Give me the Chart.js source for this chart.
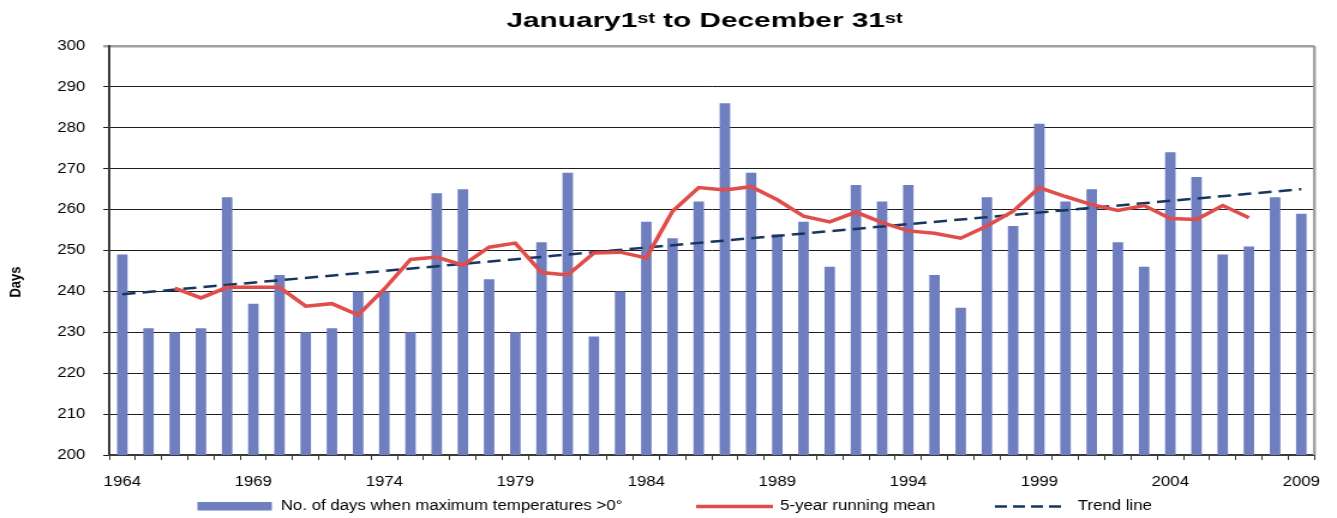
<!DOCTYPE html>
<html>
<head>
<meta charset="utf-8">
<script src="https://cdn.jsdelivr.net/npm/chart.js@4/dist/chart.umd.min.js"></script>
<style>
html,body{margin:0;padding:0;background:#fff;overflow:hidden}
#c{display:block;width:1337px;height:518px}
</style>
</head>
<body>
<canvas id="c" width="1114" height="518" style="width:1337px;height:518px"></canvas>
<script>
// ---- data ----
const years = ['1964','1965','1966','1967','1968','1969','1970','1971','1972','1973',
  '1974','1975','1976','1977','1978','1979','1980','1981','1982','1983',
  '1984','1985','1986','1987','1988','1989','1990','1991','1992','1993',
  '1994','1995','1996','1997','1998','1999','2000','2001','2002','2003',
  '2004','2005','2006','2007','2008','2009'];
const daysAboveZero = [249,231,230,231,263,237,244,230,231,240,
  240,230,264,265,243,230,252,269,229,240,
  257,253,262,286,269,254,257,246,266,262,
  266,244,236,263,256,281,262,265,252,246,
  274,268,249,251,263,259];
const runningMean = [null,null,240.8,238.4,241.0,241.0,241.0,236.4,237.0,234.2,
  240.6,247.8,248.4,246.4,250.8,251.8,244.6,244.0,249.4,249.6,
  248.2,259.6,265.4,264.8,265.6,262.4,258.4,257.0,259.4,256.8,
  254.8,254.2,253.0,256.0,259.6,265.4,263.2,261.2,259.8,261.0,
  257.8,257.6,261.0,258.0,null,null];
const trendLine = [239.3,null,null,null,null,null,null,null,null,null,
  null,null,null,null,null,null,null,null,null,null,
  null,null,null,null,null,null,null,null,null,null,
  null,null,null,null,null,null,null,null,null,null,
  null,null,null,null,null,265.0];
const xTickLabels = ['1964','1969','1974','1979','1984','1989','1994','1999','2004','2009'];
const seriesNames = ['No. of days when maximum temperatures >0\u00B0','5-year running mean','Trend line'];
const titleParts = [['January1',false],['st',true],[' to December 31',false],['st',true]];
const yAxisTitle = 'Days';

// ---- styles ----
const FONT = '"Liberation Sans", Arial, Helvetica, sans-serif';
const BLUE = '#6e7ebf';
const RED = '#e14d4b';
const NAVY = '#17355e';

const decor = {
  id: 'decor',
  afterDatasetsDraw(chart) {
    const {ctx, chartArea: a} = chart;
    ctx.save();
    ctx.strokeStyle = '#a0a0a0';
    ctx.lineWidth = 2.5;
    ctx.beginPath();
    ctx.moveTo(a.right, a.top);
    ctx.lineTo(a.right, a.bottom);
    ctx.stroke();
    ctx.restore();
  },
  afterDraw(chart) {
    const ctx = chart.ctx;
    // title
    ctx.save();
    const big = 'bold 21px ' + FONT, small = 'bold 14px ' + FONT;
    let total = 0;
    titleParts.forEach(p => { ctx.font = p[1] ? small : big; total += ctx.measureText(p[0]).width; });
    const sx = 330 / total;
    ctx.translate(587 - 165, 0);
    ctx.scale(sx, 1);
    ctx.fillStyle = '#000';
    ctx.textBaseline = 'alphabetic';
    ctx.textAlign = 'left';
    let x = 0;
    titleParts.forEach(p => {
      ctx.font = p[1] ? small : big;
      ctx.fillText(p[0], x, p[1] ? 22.5 : 26.7);
      x += ctx.measureText(p[0]).width;
    });
    ctx.restore();

    // y axis title
    ctx.save();
    ctx.translate(13.5, 282);
    ctx.rotate(-Math.PI / 2);
    ctx.font = 'bold 13px ' + FONT;
    ctx.fillStyle = '#000';
    ctx.textAlign = 'center';
    ctx.textBaseline = 'middle';
    ctx.fillText(yAxisTitle, 0, 0);
    ctx.restore();

    // legend
    const ds = chart.data.datasets;
    const ly = 506.5;
    ctx.save();
    ctx.font = '14px ' + FONT;
    ctx.fillStyle = '#000';
    ctx.textBaseline = 'middle';
    ctx.textAlign = 'left';
    // bar item
    ctx.fillStyle = ds[0].backgroundColor;
    ctx.fillRect(164.5, 502, 62, 8.5);
    ctx.fillStyle = '#000';
    ctx.fillText(ds[0].label, 234, ly);
    // running mean
    ctx.strokeStyle = ds[1].borderColor;
    ctx.lineWidth = 3.5;
    ctx.beginPath(); ctx.moveTo(580, ly); ctx.lineTo(644, ly); ctx.stroke();
    ctx.fillText(ds[1].label, 650, ly);
    // trend
    ctx.strokeStyle = ds[2].borderColor;
    ctx.lineWidth = 2.5;
    ctx.setLineDash([10, 5]);
    ctx.beginPath(); ctx.moveTo(829, ly); ctx.lineTo(885, ly); ctx.stroke();
    ctx.setLineDash([]);
    ctx.fillText(ds[2].label, 898, ly);
    ctx.restore();
  }
};

new Chart(document.getElementById('c'), {
  data: {
    labels: years,
    datasets: [
      { type: 'bar', label: seriesNames[0], data: daysAboveZero, backgroundColor: BLUE,
        barPercentage: 0.4, categoryPercentage: 1, order: 3 },
      { type: 'line', label: seriesNames[1], data: runningMean, borderColor: RED, backgroundColor: RED,
        borderWidth: 3.5, pointRadius: 0, tension: 0, spanGaps: false, order: 1 },
      { type: 'line', label: seriesNames[2], data: trendLine, borderColor: NAVY, backgroundColor: NAVY,
        borderWidth: 2.5, borderDash: [11, 6], pointRadius: 0, tension: 0, spanGaps: true, order: 2 }
    ]
  },
  options: {
    responsive: false,
    devicePixelRatio: 1,
    animation: false,
    layout: { padding: { top: 46, right: 16, left: 0, bottom: 0 } },
    plugins: { legend: { display: false }, title: { display: false }, tooltip: { enabled: false } },
    scales: {
      x: {
        type: 'category',
        offset: true,
        grid: { offset: true, drawOnChartArea: false, drawTicks: true, tickLength: 5, color: '#333', lineWidth: 1 },
        border: { display: true, color: '#3a3a3a', width: 2 },
        ticks: {
          autoSkip: false, maxRotation: 0, minRotation: 0, padding: 14, color: '#000',
          font: { family: FONT, size: 14 },
          callback(v) { const l = this.getLabelForValue(v); return xTickLabels.includes(l) ? l : ''; }
        },
        afterFit(s) { s.height = 63; }
      },
      y: {
        min: 200, max: 300,
        ticks: { stepSize: 10, padding: 15, color: '#000', font: { family: FONT, size: 14 } },
        grid: {
          color: c => (c.tick && c.tick.value === 300) ? '#a0a0a0' : '#1e1e1e',
          lineWidth: c => (c.tick && c.tick.value === 300) ? 2.5 : 1,
          tickLength: 5, drawTicks: true
        },
        border: { display: true, color: '#3a3a3a', width: 2 },
        afterFit(s) { s.width = 91; }
      }
    }
  },
  plugins: [decor]
});
</script>
</body>
</html>
